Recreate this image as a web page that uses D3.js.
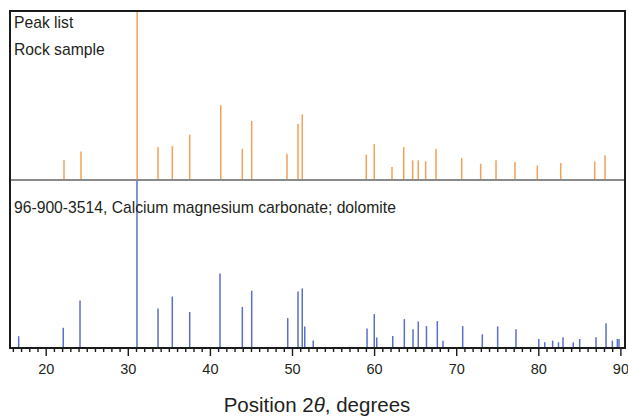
<!DOCTYPE html>
<html><head><meta charset="utf-8">
<script src="https://cdn.jsdelivr.net/npm/d3@7"></script>
<style>
html,body{margin:0;padding:0;background:#fff;}
svg{display:block;font-family:"Liberation Sans",Arial,sans-serif;}
</style></head>
<body><svg id="chart" width="628" height="417"></svg>
<script>
// Peak list: rock sample (position 2θ, relative intensity %)
const samplePos = [22.23,24.30,31.14,33.68,35.42,37.54,41.32,43.95,45.09,49.39,50.73,51.25,
  59.05,60.02,62.18,63.61,64.70,65.38,66.28,67.54,70.67,72.98,74.85,77.16,79.88,82.73,86.87,88.13];
const sampleInt = [11.3,16.3,100,19.0,19.6,26.4,43.9,18.0,34.5,15.0,32.9,38.5,
  14.5,20.8,7.1,19.0,11.1,11.1,10.5,18.0,12.5,9.1,11.1,10.1,8.1,9.5,10.5,14.1];
// Reference pattern 96-900-3514 dolomite
const refPos = [16.71,22.14,24.18,31.12,33.68,35.42,37.54,41.23,43.95,45.09,49.48,50.73,51.25,51.55,52.59,
  59.14,60.02,60.32,62.27,63.68,64.74,65.38,66.38,67.70,68.39,70.79,73.18,75.05,77.28,
  80.06,80.79,81.75,82.46,83.01,84.26,85.04,87.03,88.25,89.02,89.63,89.83];
const refInt = [6.5,11.5,27.8,100,23.0,30.2,21.0,44.0,24.0,33.7,17.3,33.3,35.1,12.3,3.9,
  11.1,19.7,5.7,6.6,16.7,10.7,15.3,12.5,15.5,3.8,12.5,7.6,12.3,10.7,
  4.8,2.8,3.8,2.8,5.8,2.8,4.8,5.8,14.2,3.8,4.8,4.8];
const majorTicks = [20,30,40,50,60,70,80,90];
const panelLabels = ["Peak list","Rock sample"];
const refLabel = "96-900-3514, Calcium magnesium carbonate; dolomite";

const svg = d3.select("#chart");
const L = 10, R = 625, T = 11, MID = 180, B = 348;
const x = d3.scaleLinear().domain([15.652, 90.56]).range([L, R]);
const yTop = d3.scaleLinear().domain([0,100]).range([MID-1, T]);
const yBot = d3.scaleLinear().domain([0,100]).range([B-1, MID]);

const orange = "#f5a057", blue = "#5a70c8";

// sample bars
svg.append("g").selectAll("line").data(samplePos).join("line")
  .attr("x1", d=>x(d)).attr("x2", d=>x(d))
  .attr("y1", yTop(0)).attr("y2", (d,i)=>yTop(sampleInt[i]))
  .attr("stroke", orange).attr("stroke-width", 1.5);

// reference bars
svg.append("g").selectAll("line").data(refPos).join("line")
  .attr("x1", d=>x(d)).attr("x2", d=>x(d))
  .attr("y1", yBot(0)).attr("y2", (d,i)=>yBot(refInt[i]))
  .attr("stroke", blue).attr("stroke-width", 1.5);

// divider
svg.append("line").attr("x1", L).attr("x2", R).attr("y1", MID).attr("y2", MID)
  .attr("stroke", "#8a8a8a").attr("stroke-width", 2);

// frame
svg.append("path")
  .attr("d", `M${L},${B} L${L},${T} L${R},${T} L${R},${B}`)
  .attr("fill","none").attr("stroke","#1a1a1a").attr("stroke-width",2);

// x axis
const minor = d3.range(16, 91, 1).filter(v=>!majorTicks.includes(v));
const gMinor = svg.append("g").attr("transform", `translate(0,${B})`)
  .call(d3.axisBottom(x).tickValues(minor).tickSize(4).tickFormat(""));
const gAxis = svg.append("g").attr("transform", `translate(0,${B})`)
  .call(d3.axisBottom(x).tickValues(majorTicks).tickSize(8).tickPadding(8).tickFormat(d3.format("d")));
[gMinor, gAxis].forEach(g=>{
  g.select(".domain").remove();
  g.selectAll(".tick line").attr("stroke","#1a1a1a").attr("stroke-width",1.4);
});
gAxis.selectAll(".tick text").attr("font-size","14.5px").attr("fill","#231f20")
  .attr("font-family","Liberation Sans, Arial, sans-serif");
svg.append("line").attr("x1", L-1).attr("x2", R+1).attr("y1", B).attr("y2", B)
  .attr("stroke","#1a1a1a").attr("stroke-width",2);

// labels
svg.append("g").selectAll("text").data(panelLabels).join("text")
  .attr("x", 14).attr("y", (d,i)=>28 + i*27)
  .attr("font-size","15.7px").attr("fill","#231f20").text(d=>d);
svg.append("text").attr("x", 14).attr("y", 213)
  .attr("font-size","15.7px").attr("fill","#231f20").text(refLabel);

const title = svg.append("text").attr("x", 317).attr("y", 412)
  .attr("text-anchor","middle").attr("font-size","20.5px").attr("fill","#231f20");
title.append("tspan").text("Position 2");
title.append("tspan").attr("font-style","italic").text("θ");
title.append("tspan").text(", degrees");
</script></body></html>
